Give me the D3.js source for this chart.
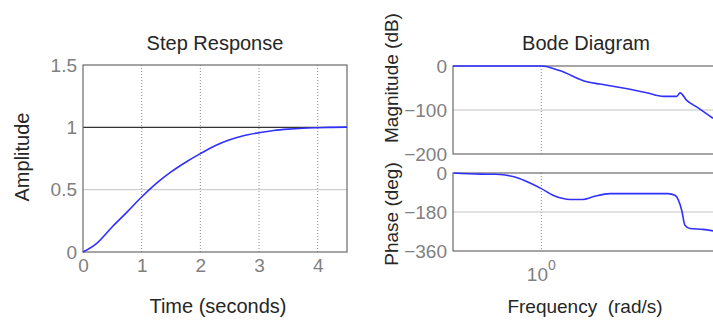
<!DOCTYPE html>
<html><head><meta charset="utf-8">
<script src="https://cdn.jsdelivr.net/npm/d3@7"></script>
<style>body{margin:0;background:#fff}svg{display:block}text{font-family:"Liberation Sans",Arial,sans-serif}</style>
</head><body><svg id="c" width="713" height="322"></svg>
<script>
// Step response data
const stepTime = [0, 0.234, 0.5, 0.75, 1, 1.25, 1.5, 1.75, 2, 2.25, 2.5, 2.75, 3, 3.25, 3.5, 3.75, 4, 4.25, 4.5];
const stepAmp  = [0, 0.07, 0.203, 0.32, 0.441, 0.55, 0.642, 0.72, 0.789, 0.852, 0.9, 0.935, 0.957, 0.975, 0.986, 0.993, 0.997, 1.0, 1.002];
const stepXTicks = [0, 1, 2, 3, 4];
const stepYTicks = [0, 0.5, 1, 1.5];
const stepYTickLabels = ["0", "0.5", "1", "1.5"];

// Bode magnitude data
const magFreq = [0.316, 0.5, 0.8, 1.0, 1.28, 1.81, 2.15, 2.79, 3.95, 4.9, 5.84, 6.1, 6.65, 7.57, 9.37];
const magDb   = [0, 0, 0, 0, -11, -36, -41, -49, -61, -69, -69, -61, -78, -93, -119];
// Bode phase data
const phFreq = [0.319, 0.45, 0.55, 0.607, 0.758, 0.863, 1.0, 1.164, 1.327, 1.45, 1.72, 1.96, 2.45, 5.21, 5.71, 6.23, 6.5, 6.94, 8.22, 9.37];
const phDeg  = [0, -5, -6, -8, -26, -46, -72, -103, -118, -122, -122, -110, -95, -95, -103, -172, -241, -256, -260, -267];
const magTicks = [0, -100, -200];
const phTicks = [0, -180, -360];

const svg = d3.select("#c");
const FS = 19, FL = 20;
const tickCol = "#808080", labCol = "#262626", frameCol = "#6a6a6a";
const gridCol = "#c4c4c4", dotCol = "#8c8c8c", lineCol = "#3030ff";

// ---------- Step response ----------
const sx = d3.scaleLinear().domain([0, 4.5]).range([83, 347]);
const sy = d3.scaleLinear().domain([0, 1.5]).range([252, 65]);
const gs = svg.append("g");
gs.selectAll(".vg").data(stepXTicks.slice(1)).join("line")
  .attr("x1", d => sx(d)).attr("x2", d => sx(d)).attr("y1", sy(1.5)).attr("y2", sy(0))
  .attr("stroke", dotCol).attr("stroke-dasharray", "1,2").attr("stroke-width", 1);
gs.selectAll(".hg").data([0.5]).join("line")
  .attr("x1", sx(0)).attr("x2", sx(4.5)).attr("y1", d => sy(d)).attr("y2", d => sy(d))
  .attr("stroke", gridCol).attr("stroke-width", 1);
gs.append("line").attr("x1", sx(0)).attr("x2", sx(4.5)).attr("y1", sy(1)).attr("y2", sy(1))
  .attr("stroke", "#333").attr("stroke-width", 1.4);
gs.append("rect").attr("x", sx(0)).attr("y", sy(1.5)).attr("width", sx(4.5) - sx(0)).attr("height", sy(0) - sy(1.5))
  .attr("fill", "none").attr("stroke", frameCol).attr("stroke-width", 1.2);
gs.append("path").datum(stepTime.map((t, i) => [t, stepAmp[i]]))
  .attr("d", d3.line().x(d => sx(d[0])).y(d => sy(d[1])).curve(d3.curveMonotoneX))
  .attr("fill", "none").attr("stroke", lineCol).attr("stroke-width", 1.6);
const sxa = gs.append("g").attr("transform", `translate(0,${sy(0)})`)
  .call(d3.axisBottom(sx).tickValues(stepXTicks).tickSize(0).tickPadding(7).tickFormat(d3.format("d")));
const sya = gs.append("g").attr("transform", `translate(${sx(0)},0)`)
  .call(d3.axisLeft(sy).tickValues(stepYTicks).tickSize(0).tickPadding(6).tickFormat((d, i) => stepYTickLabels[i]));
[sxa, sya].forEach(a => { a.select(".domain").remove(); a.selectAll("text").attr("fill", tickCol).style("font-size", FS + "px").style("font-family", '"Liberation Sans",Arial,sans-serif'); });
gs.append("text").attr("x", 215).attr("y", 50).attr("text-anchor", "middle").attr("fill", labCol).style("font-size", FL + "px").text("Step Response");
gs.append("text").attr("x", 218).attr("y", 313).attr("text-anchor", "middle").attr("fill", labCol).style("font-size", FL + "px").text("Time (seconds)");
gs.append("text").attr("transform", "translate(29,157) rotate(-90)").attr("text-anchor", "middle").attr("fill", labCol).style("font-size", FL + "px").text("Amplitude");

// ---------- Bode ----------
const bx = d3.scaleLog().domain([Math.pow(10, -0.5), 10]).range([453, 718]);
const my = d3.scaleLinear().domain([-200, 0]).range([154, 66]);
const py = d3.scaleLinear().domain([-360, 0]).range([251, 173]);
const gb = svg.append("g");
function panel(yScale, ticks, grid, fx, fy) {
  const [y0, y1] = [yScale(ticks[2]), yScale(ticks[0])];
  gb.append("line").attr("x1", bx(1)).attr("x2", bx(1)).attr("y1", y1).attr("y2", y0)
    .attr("stroke", dotCol).attr("stroke-dasharray", "1,2");
  gb.append("line").attr("x1", bx.range()[0]).attr("x2", bx.range()[1]).attr("y1", yScale(grid)).attr("y2", yScale(grid))
    .attr("stroke", gridCol);
  gb.append("rect").attr("x", bx.range()[0]).attr("y", y1).attr("width", bx.range()[1] - bx.range()[0]).attr("height", y0 - y1)
    .attr("fill", "none").attr("stroke", frameCol).attr("stroke-width", 1.2);
  gb.append("path").datum(fx.map((f, i) => [f, fy[i]]))
    .attr("d", d3.line().x(d => bx(d[0])).y(d => yScale(d[1])).curve(d3.curveMonotoneX))
    .attr("fill", "none").attr("stroke", lineCol).attr("stroke-width", 1.6);
  const a = gb.append("g").attr("transform", `translate(${bx.range()[0]},0)`)
    .call(d3.axisLeft(yScale).tickValues(ticks).tickSize(0).tickPadding(6).tickFormat(d3.format("d")));
  a.select(".domain").remove();
  a.selectAll("text").attr("fill", tickCol).style("font-size", FS + "px").style("font-family", '"Liberation Sans",Arial,sans-serif');
}
panel(my, magTicks, -100, magFreq, magDb);
panel(py, phTicks, -180, phFreq, phDeg);
const t10 = gb.append("text").attr("x", bx(1)).attr("y", 281).attr("text-anchor", "middle").attr("fill", tickCol).style("font-size", FS + "px");
t10.append("tspan").text("10");
t10.append("tspan").attr("dy", -11).style("font-size", "14px").text("0");
gb.append("text").attr("x", 586).attr("y", 50).attr("text-anchor", "middle").attr("fill", labCol).style("font-size", FL + "px").text("Bode Diagram");
gb.append("text").attr("x", 585).attr("y", 313).attr("text-anchor", "middle").attr("fill", labCol).style("font-size", FS + "px").style("white-space", "pre").text("Frequency  (rad/s)");
gb.append("text").attr("transform", "translate(398,78) rotate(-90)").attr("text-anchor", "middle").attr("fill", labCol).style("font-size", FS + "px").text("Magnitude (dB)");
gb.append("text").attr("transform", "translate(398,214) rotate(-90)").attr("text-anchor", "middle").attr("fill", labCol).style("font-size", FS + "px").text("Phase (deg)");
</script></body></html>
